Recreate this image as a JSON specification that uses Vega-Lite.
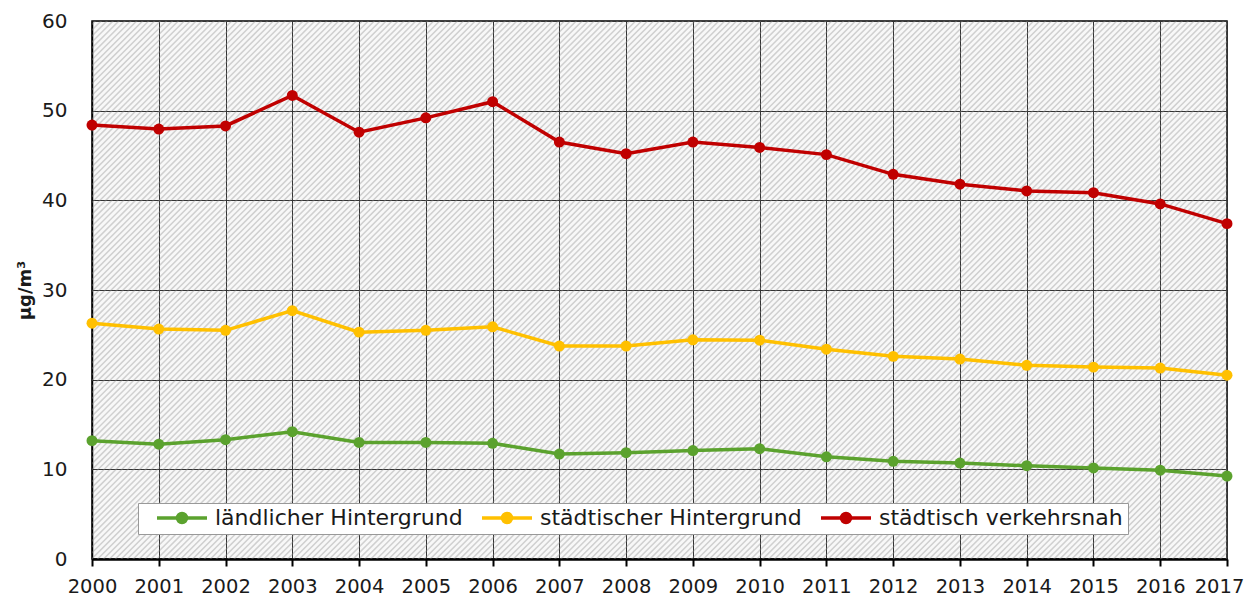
{
  "$schema": "https://vega.github.io/schema/vega-lite/v6.json",
  "width": 1135,
  "height": 538,
  "autosize": {"type": "none"},
  "padding": {"left": 92, "top": 21, "right": 22, "bottom": 40},
  "background": "white",
  "config": {
    "font": "DejaVu Sans",
    "view": {"fill": "#f8f8f8", "stroke": "black", "strokeWidth": 1.5}
  },
  "layer": [
    {
      "data": {"values": [{}]},
      "mark": {"type": "rule", "clip": true, "color": "#8e8e8e", "opacity": 0.38, "strokeWidth": 1250, "strokeDash": [1.5, 2.7], "strokeCap": "butt"},
      "encoding": {
        "x": {"datum": 2001.94, "type": "quantitative", "scale": {"domain": [2000, 2017], "nice": false, "zero": false}, "title": null},
        "x2": {"datum": 2015.06},
        "y": {"datum": 78.85, "type": "quantitative", "scale": {"domain": [0, 60], "nice": false}, "title": "µg/m³"},
        "y2": {"datum": -18.85}
      }
    },
    {
      "data": {
        "values": [
          {"year": 2000, "series": "ländlicher Hintergrund", "value": 13.2},
          {"year": 2001, "series": "ländlicher Hintergrund", "value": 12.8},
          {"year": 2002, "series": "ländlicher Hintergrund", "value": 13.3},
          {"year": 2003, "series": "ländlicher Hintergrund", "value": 14.2},
          {"year": 2004, "series": "ländlicher Hintergrund", "value": 13.0},
          {"year": 2005, "series": "ländlicher Hintergrund", "value": 13.0},
          {"year": 2006, "series": "ländlicher Hintergrund", "value": 12.9},
          {"year": 2007, "series": "ländlicher Hintergrund", "value": 11.7},
          {"year": 2008, "series": "ländlicher Hintergrund", "value": 11.85},
          {"year": 2009, "series": "ländlicher Hintergrund", "value": 12.1},
          {"year": 2010, "series": "ländlicher Hintergrund", "value": 12.3},
          {"year": 2011, "series": "ländlicher Hintergrund", "value": 11.4},
          {"year": 2012, "series": "ländlicher Hintergrund", "value": 10.9},
          {"year": 2013, "series": "ländlicher Hintergrund", "value": 10.7},
          {"year": 2014, "series": "ländlicher Hintergrund", "value": 10.4},
          {"year": 2015, "series": "ländlicher Hintergrund", "value": 10.15},
          {"year": 2016, "series": "ländlicher Hintergrund", "value": 9.9},
          {"year": 2017, "series": "ländlicher Hintergrund", "value": 9.25},
          {"year": 2000, "series": "städtischer Hintergrund", "value": 26.3},
          {"year": 2001, "series": "städtischer Hintergrund", "value": 25.65},
          {"year": 2002, "series": "städtischer Hintergrund", "value": 25.5},
          {"year": 2003, "series": "städtischer Hintergrund", "value": 27.7},
          {"year": 2004, "series": "städtischer Hintergrund", "value": 25.3},
          {"year": 2005, "series": "städtischer Hintergrund", "value": 25.5},
          {"year": 2006, "series": "städtischer Hintergrund", "value": 25.9},
          {"year": 2007, "series": "städtischer Hintergrund", "value": 23.75},
          {"year": 2008, "series": "städtischer Hintergrund", "value": 23.75},
          {"year": 2009, "series": "städtischer Hintergrund", "value": 24.45},
          {"year": 2010, "series": "städtischer Hintergrund", "value": 24.4},
          {"year": 2011, "series": "städtischer Hintergrund", "value": 23.4},
          {"year": 2012, "series": "städtischer Hintergrund", "value": 22.6},
          {"year": 2013, "series": "städtischer Hintergrund", "value": 22.3},
          {"year": 2014, "series": "städtischer Hintergrund", "value": 21.6},
          {"year": 2015, "series": "städtischer Hintergrund", "value": 21.4},
          {"year": 2016, "series": "städtischer Hintergrund", "value": 21.3},
          {"year": 2017, "series": "städtischer Hintergrund", "value": 20.5},
          {"year": 2000, "series": "städtisch verkehrsnah", "value": 48.4},
          {"year": 2001, "series": "städtisch verkehrsnah", "value": 47.95},
          {"year": 2002, "series": "städtisch verkehrsnah", "value": 48.3},
          {"year": 2003, "series": "städtisch verkehrsnah", "value": 51.7},
          {"year": 2004, "series": "städtisch verkehrsnah", "value": 47.6},
          {"year": 2005, "series": "städtisch verkehrsnah", "value": 49.2},
          {"year": 2006, "series": "städtisch verkehrsnah", "value": 51.0},
          {"year": 2007, "series": "städtisch verkehrsnah", "value": 46.5},
          {"year": 2008, "series": "städtisch verkehrsnah", "value": 45.2},
          {"year": 2009, "series": "städtisch verkehrsnah", "value": 46.5},
          {"year": 2010, "series": "städtisch verkehrsnah", "value": 45.9},
          {"year": 2011, "series": "städtisch verkehrsnah", "value": 45.1},
          {"year": 2012, "series": "städtisch verkehrsnah", "value": 42.9},
          {"year": 2013, "series": "städtisch verkehrsnah", "value": 41.8},
          {"year": 2014, "series": "städtisch verkehrsnah", "value": 41.05},
          {"year": 2015, "series": "städtisch verkehrsnah", "value": 40.85},
          {"year": 2016, "series": "städtisch verkehrsnah", "value": 39.6},
          {"year": 2017, "series": "städtisch verkehrsnah", "value": 37.4}
        ]
      },
      "mark": {"type": "line", "strokeWidth": 3.5, "point": {"filled": true, "size": 120, "opacity": 1}},
      "encoding": {
        "x": {
          "field": "year", "type": "quantitative",
          "scale": {"domain": [2000, 2017], "nice": false, "zero": false},
          "axis": {
            "values": [2000, 2001, 2002, 2003, 2004, 2005, 2006, 2007, 2008, 2009, 2010, 2011, 2012, 2013, 2014, 2015, 2016, 2017],
            "format": "d", "title": null, "grid": true, "gridColor": "#333333", "gridWidth": 1, "gridOpacity": 1,
            "domainColor": "black", "domainWidth": 2.5, "tickColor": "black", "tickWidth": 2, "tickSize": 7,
            "labelFontSize": 19.5, "labelColor": "#1a1a1a", "labelPadding": 11, "labelFlush": false, "labelOverlap": false,
            "labelOffset": {"condition": {"test": "datum.value === 2017", "value": -8}, "value": 0}
          }
        },
        "y": {
          "field": "value", "type": "quantitative",
          "scale": {"domain": [0, 60], "nice": false},
          "axis": {
            "values": [0, 10, 20, 30, 40, 50, 60], "title": "µg/m³", "grid": true, "gridColor": "#333333", "gridWidth": 1, "gridOpacity": 1,
            "ticks": false, "domainColor": "black", "domainWidth": 1.5,
            "labelFontSize": 20, "labelColor": "#1a1a1a", "labelPadding": 25,
            "titleFontSize": 18, "titleFontWeight": "bold", "titleColor": "#1a1a1a", "titlePadding": 7
          }
        },
        "color": {
          "field": "series", "type": "nominal",
          "scale": {"domain": ["ländlicher Hintergrund", "städtischer Hintergrund", "städtisch verkehrsnah"], "range": ["#5ba22e", "#ffc000", "#c00000"]},
          "legend": {
            "title": null, "orient": "none", "legendX": 46, "legendY": 482, "direction": "horizontal",
            "fillColor": "white", "strokeColor": "#999999", "padding": 5, "clipHeight": 20,
            "symbolType": "M-1,0H1M-0.18,0A0.18,0.18 0 1,0 0.18,0A0.18,0.18 0 1,0 -0.18,0",
            "symbolSize": 2500, "symbolStrokeWidth": 3.5, "symbolOffset": 12,
            "labelFontSize": 22, "labelColor": "#1a1a1a", "labelOffset": 6, "columnPadding": 5, "labelLimit": 400,
            "encode": {"symbols": {"update": {"fill": {"scale": "color", "field": "value"}, "stroke": {"scale": "color", "field": "value"}, "opacity": {"value": 1}}}}
          }
        }
      }
    }
  ]
}
